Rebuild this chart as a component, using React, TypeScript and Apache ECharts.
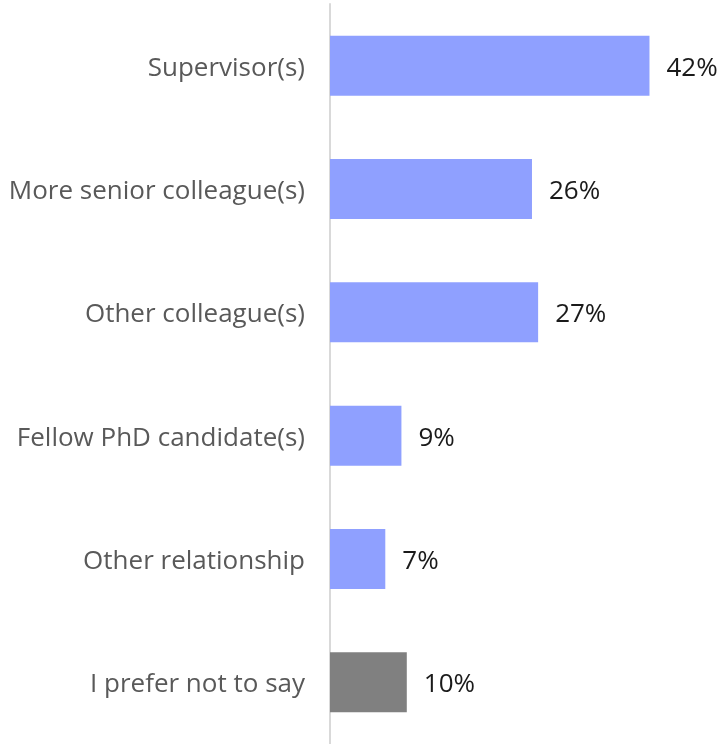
import React, { useEffect, useRef } from "react";
import * as echarts from "echarts";

const categories = [
  "Supervisor(s)",
  "More senior colleague(s)",
  "Other colleague(s)",
  "Fellow PhD candidate(s)",
  "Other relationship",
  "I prefer not to say",
];
const values = [41.6, 26.3, 27.1, 9.3, 7.2, 10.0];
const barColors = ["#8FA0FF", "#8FA0FF", "#8FA0FF", "#8FA0FF", "#8FA0FF", "#808080"];

export default function App() {
  const ref = useRef<HTMLDivElement>(null);
  useEffect(() => {
    if (!ref.current) return;
    const chart = echarts.init(ref.current, null, { renderer: "svg" });
    chart.setOption({
      animation: false,
      grid: { left: 330, top: 4, width: 384, height: 740 },
      xAxis: {
        type: "value",
        min: 0,
        max: 50,
        show: false,
      },
      yAxis: {
        type: "category",
        data: categories,
        inverse: true,
        axisLine: { show: true, lineStyle: { color: "#D9D9D9", width: 2 } },
        axisTick: { show: false },
        axisLabel: {
          color: "#595959",
          fontSize: 26,
          fontFamily: "Open Sans",
          margin: 25,
        },
      },
      series: [
        {
          type: "bar",
          barWidth: 60,
          data: values.map((v, i) => ({ value: v, itemStyle: { color: barColors[i] } })),
          label: {
            show: true,
            position: "right",
            distance: 17,
            color: "#1A1A1A",
            fontSize: 26,
            fontFamily: "Open Sans",
            formatter: (p: any) => Math.round(p.value) + "%",
          },
        },
      ],
    });
    return () => chart.dispose();
  }, []);
  return (
    <div
      ref={ref}
      style={{ position: "fixed", left: 0, top: 0, width: 720, height: 744 }}
    />
  );
}
